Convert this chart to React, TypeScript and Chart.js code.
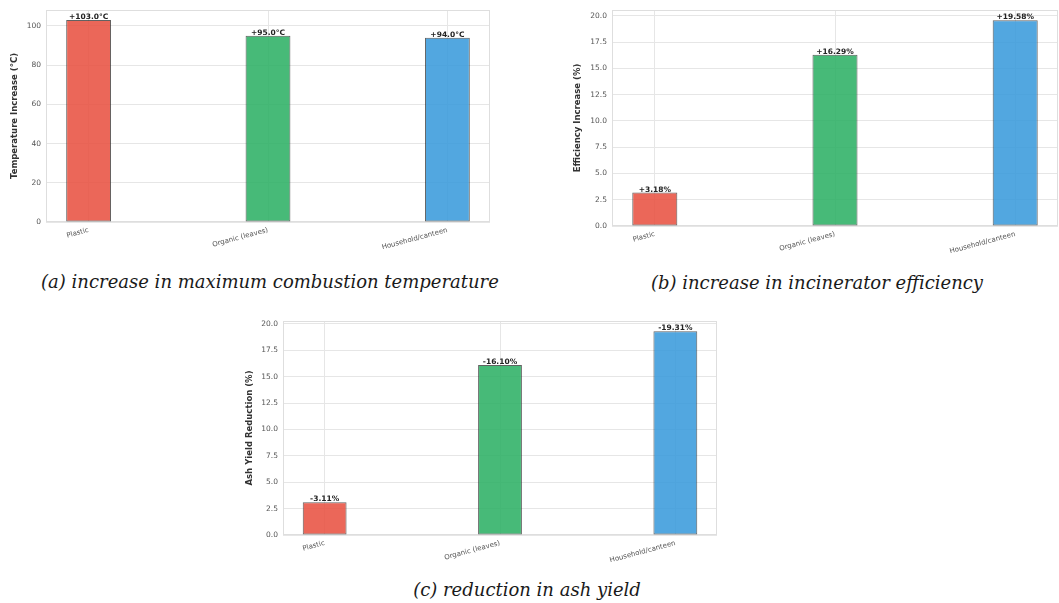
import React, { useEffect, useRef } from "react";
import { Chart, registerables } from "chart.js";

Chart.register(...registerables);

const categories = ["Plastic", "Organic (leaves)", "Household/canteen"];
const tempIncrease = [103.0, 95.0, 94.0];
const efficiencyIncrease = [3.18, 16.29, 19.58];
const ashReduction = [3.11, 16.1, 19.31];
const tempLabels = ["+103.0°C", "+95.0°C", "+94.0°C"];
const effLabels = ["+3.18%", "+16.29%", "+19.58%"];
const ashLabels = ["-3.11%", "-16.10%", "-19.31%"];
const tempTicks = [0, 20, 40, 60, 80, 100];
const pctTicks = [0, 2.5, 5, 7.5, 10, 12.5, 15, 17.5, 20];
const barColors = ["rgba(231,76,60,0.85)", "rgba(39,174,96,0.85)", "rgba(52,152,219,0.85)"];

const BAR_W = 0.25;
const MARGIN = 0.05;

type PanelProps = {
  values: number[];
  labels: string[];
  ticks: number[];
  decimals: number;
  yTitle: string;
  left: number;
  top: number;
  width: number;
  height: number;
  pad: { left: number; top: number; right: number; bottom: number };
  yWidth: number;
  xHeight: number;
};

const framePlugin = {
  id: "frame",
  beforeDatasetsDraw(chart: any) {
    const { ctx, chartArea } = chart;
    ctx.save();
    ctx.strokeStyle = "#dedede";
    ctx.lineWidth = 1;
    ctx.strokeRect(chartArea.left + 0.5, chartArea.top + 0.5, chartArea.right - chartArea.left - 1, chartArea.bottom - chartArea.top - 1);
    ctx.restore();
  },
};

const valueLabelPlugin = {
  id: "valueLabels",
  afterDatasetsDraw(chart: any, _args: any, opts: any) {
    const { ctx } = chart;
    const meta = chart.getDatasetMeta(0);
    ctx.save();
    ctx.font = "bold 7.5px 'DejaVu Sans'";
    ctx.fillStyle = "#222";
    ctx.textAlign = "center";
    ctx.textBaseline = "bottom";
    meta.data.forEach((el: any, i: number) => {
      ctx.fillText(opts.labels[i], el.x, el.y + 1);
    });
    ctx.restore();
  },
};

function BarPanel(p: PanelProps) {
  const ref = useRef<HTMLCanvasElement | null>(null);
  useEffect(() => {
    if (!ref.current) return;
    const ymax = Math.max(...p.values) * (1 + MARGIN);
    const span = categories.length - 1 + BAR_W;
    const xmin = -BAR_W / 2 - MARGIN * span;
    const xmax = categories.length - 1 + BAR_W / 2 + MARGIN * span;
    const chart = new Chart(ref.current, {
      type: "bar",
      data: {
        datasets: [
          {
            data: p.values.map((v, i) => ({ x: i, y: v })),
            backgroundColor: barColors,
            borderColor: "rgba(45,45,45,0.75)",
            borderWidth: 1,
            borderSkipped: false,
            barPercentage: BAR_W,
            categoryPercentage: 1,
          } as any,
        ],
      },
      options: {
        animation: false,
        responsive: false,
        devicePixelRatio: 1,
        layout: { padding: p.pad },
        plugins: {
          legend: { display: false },
          tooltip: { enabled: false },
          valueLabels: { labels: p.labels },
        } as any,
        scales: {
          x: {
            type: "linear",
            offset: false,
            min: xmin,
            max: xmax,
            afterBuildTicks: (s: any) => {
              s.ticks = categories.map((_, i) => ({ value: i }));
            },
            afterFit: (s: any) => {
              s.height = p.xHeight;
            },
            border: { display: false },
            grid: { color: "#e6e6e6", drawTicks: false, offset: false },
            ticks: {
              autoSkip: false,
              minRotation: 15,
              maxRotation: 15,
              padding: 4,
              color: "#555",
              font: { family: "'DejaVu Sans'", size: 7 },
              callback: (v: any) => categories[v as number] ?? "",
            },
          },
          y: {
            type: "linear",
            min: 0,
            max: ymax,
            afterBuildTicks: (s: any) => {
              s.ticks = p.ticks.map((v) => ({ value: v }));
            },
            afterFit: (s: any) => {
              s.width = p.yWidth;
            },
            border: { display: false },
            grid: { color: "#e6e6e6", drawTicks: false },
            title: {
              display: true,
              text: p.yTitle,
              color: "#333",
              font: { family: "'DejaVu Sans'", size: 8.5, weight: "bold" },
              padding: { top: 4, bottom: 2 },
            },
            ticks: {
              padding: 5,
              color: "#555",
              font: { family: "'DejaVu Sans'", size: 7.5 },
              callback: (v: any) => Number(v).toFixed(p.decimals),
            },
          },
        },
      } as any,
      plugins: [framePlugin, valueLabelPlugin],
    });
    return () => chart.destroy();
  }, []);
  return (
    <canvas
      ref={ref}
      width={p.width}
      height={p.height}
      style={{ position: "absolute", left: p.left, top: p.top, width: p.width, height: p.height }}
    />
  );
}

const captionStyle = (cx: number, cy: number): React.CSSProperties => ({
  position: "absolute",
  left: cx - 300,
  top: cy - 12,
  width: 600,
  height: 24,
  lineHeight: "24px",
  textAlign: "center",
  fontFamily: "'DejaVu Serif', serif",
  fontStyle: "italic",
  fontSize: 18,
  color: "#1a1a1a",
  whiteSpace: "nowrap",
});

export default function App() {
  return (
    <div style={{ position: "absolute", left: 0, top: 0, width: 1059, height: 603, background: "#fff", overflow: "hidden" }}>
      <BarPanel
        values={tempIncrease}
        labels={tempLabels}
        ticks={tempTicks}
        decimals={0}
        yTitle="Temperature Increase (°C)"
        left={0}
        top={0}
        width={520}
        height={262}
        pad={{ left: 6, top: 10, right: 30, bottom: 0 }}
        yWidth={40}
        xHeight={40}
      />
      <BarPanel
        values={efficiencyIncrease}
        labels={effLabels}
        ticks={pctTicks}
        decimals={1}
        yTitle="Efficiency Increase (%)"
        left={540}
        top={0}
        width={519}
        height={262}
        pad={{ left: 29, top: 10, right: 1, bottom: 0 }}
        yWidth={43}
        xHeight={36}
      />
      <BarPanel
        values={ashReduction}
        labels={ashLabels}
        ticks={pctTicks}
        decimals={1}
        yTitle="Ash Yield Reduction (%)"
        left={230}
        top={300}
        width={540}
        height={270}
        pad={{ left: 11, top: 21, right: 53, bottom: 0 }}
        yWidth={42}
        xHeight={35}
      />
      <div style={captionStyle(270, 282)}>(a) increase in maximum combustion temperature</div>
      <div style={captionStyle(817, 283)}>(b) increase in incinerator efficiency</div>
      <div style={captionStyle(527, 590)}>(c) reduction in ash yield</div>
    </div>
  );
}
